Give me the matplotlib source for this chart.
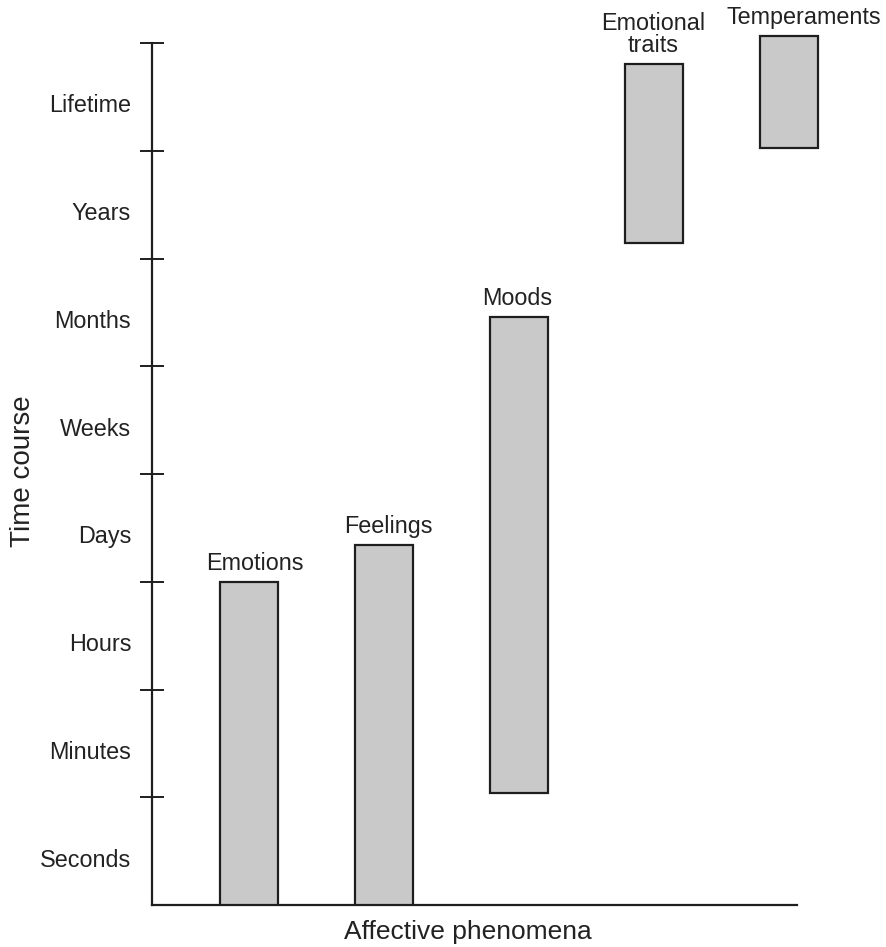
import matplotlib
matplotlib.use("Agg")
import matplotlib.pyplot as plt

# time scale categories (bottom to top)
time_labels = ["Seconds", "Minutes", "Hours", "Days", "Weeks", "Months", "Years", "Lifetime"]

# affective phenomena and their time spans (in time-category units)
phenomena = ["Emotions", "Feelings", "Moods", "Emotional\ntraits", "Temperaments"]
span_low = [0.0, 0.0, 1.04, 6.14, 7.03]
span_high = [3.0, 3.34, 5.46, 7.81, 8.07]
label_shift = [6, 4, -2, -1, 15]  # px nudge of the label text

plt.rcParams['font.family'] = ['Liberation Sans', 'DejaVu Sans']

fig = plt.figure(figsize=(8.86, 9.47), dpi=100)
ax = fig.add_axes([152 / 886, 42 / 947, (886 - 152) / 886, 905 / 947])

xs = list(range(len(phenomena)))
heights = [h - l for l, h in zip(span_low, span_high)]
ax.bar(xs, heights, bottom=span_low, width=0.43,
       color='#c9c9c9', edgecolor='#1e1e1e', linewidth=1.6, zorder=3)

for x, top, name, dx in zip(xs, span_high, phenomena, label_shift):
    ax.annotate(name, (x, top), xytext=(dx * 0.72, 5), textcoords='offset points',
                ha='center', va='bottom', fontsize=16.8, color='#222222',
                linespacing=0.95)

ax.set_xlim(-0.72, 4.72)
ax.set_ylim(0, 8.4)

for s in ['top', 'right']:
    ax.spines[s].set_visible(False)
ax.spines['left'].set_bounds(0, 8)
ax.spines['bottom'].set_bounds(-0.72, 4.06)
for s in ['left', 'bottom']:
    ax.spines[s].set_linewidth(1.6)
    ax.spines[s].set_color('#1e1e1e')

ax.set_xticks([])
ax.set_yticks(range(1, 9))
ax.set_yticklabels([])
ax.tick_params(axis='y', which='major', direction='inout', length=17, width=1.4,
               color='#1e1e1e')
ax.set_yticks([i + 0.44 for i in range(len(time_labels))], minor=True)
ax.set_yticklabels(time_labels, minor=True, fontsize=16.8, color='#222222')
ax.tick_params(axis='y', which='minor', length=0, pad=15)

fig.text(23 / 886, 1 - 471 / 947, "Time course", rotation=90, ha='center',
         va='center', fontsize=20, color='#222222')
fig.text(468 / 886, 1 - 932 / 947, "Affective phenomena", ha='center',
         va='center', fontsize=19, color='#222222')

fig.savefig("out.png", dpi=100)
